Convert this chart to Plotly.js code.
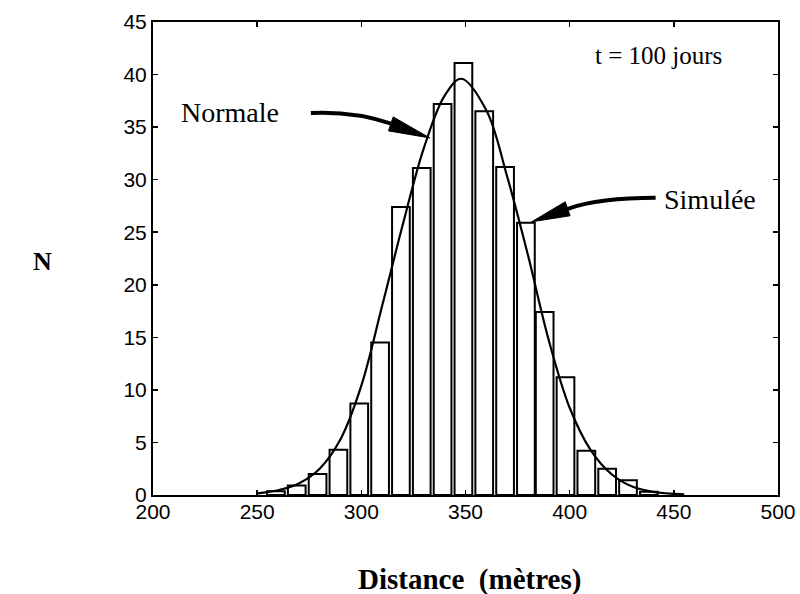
<!DOCTYPE html>
<html>
<head>
<meta charset="utf-8">
<script src="https://cdn.plot.ly/plotly-3.0.1.min.js"></script>
<style>html,body{margin:0;padding:0;background:#fff;}</style>
</head>
<body>
<div id="chart" style="width:800px;height:594px;"></div>
<script>
// Histogram (simulated distances), bin centers in metres
const binCenters = [259, 269, 279, 289, 299, 309, 319, 329, 339, 349, 359, 369, 379, 388, 398, 408, 418, 428, 438];
const binCounts  = [0.35, 0.9, 2.0, 4.3, 8.7, 14.5, 27.4, 31.1, 37.2, 41.1, 36.5, 31.2, 25.9, 17.4, 11.2, 4.2, 2.5, 1.4, 0.3];

// Normal curve, values
const curveX = [250, 260, 270, 280, 290, 300, 310, 320, 330, 340, 348, 360, 370, 380, 390, 400, 410, 420, 430, 440, 455];
const curveY = [0.15, 0.45, 1.1, 2.5, 5.3, 10.4, 18.0, 25.8, 33.0, 38.0, 39.6, 36.6, 30.3, 22.8, 14.7, 8.3, 4.3, 2.0, 0.8, 0.3, 0.05];

const xTicks = [200, 250, 300, 350, 400, 450, 500];
const yTicks = [0, 5, 10, 15, 20, 25, 30, 35, 40, 45];

const labels = {
  time: 't = 100 jours',
  normal: 'Normale',
  simul: 'Simulée',
  xTitle: '<b>Distance\u00a0\u00a0(mètres)</b>',
  yTitle: '<b>N</b>'
};

// plot area in pixels
const W = 800, H = 594;
const L = 153, R = 778.5, T = 22, B = 495.5;
const px = x => (x - L) / (R - L);
const py = y => (B - y) / (B - T);
const pt = (x, y) => px(x).toFixed(4) + ',' + py(y).toFixed(4);

const bars = {
  type: 'bar',
  x: binCenters,
  y: binCounts,
  width: 8.5,
  marker: { color: '#ffffff', line: { color: '#000000', width: 2 } },
  hoverinfo: 'x+y'
};
const curve = {
  type: 'scatter',
  mode: 'lines',
  x: curveX,
  y: curveY,
  line: { color: '#000000', width: 2.2, shape: 'spline', smoothing: 1 }
};

const serif = 'Liberation Serif, Times New Roman, serif';
const sans = 'Liberation Sans, Arial, sans-serif';

function note(text, x, y, size) {
  return { text: text, xref: 'paper', yref: 'paper', x: px(x), y: py(y),
    xanchor: 'center', yanchor: 'middle', showarrow: false,
    font: { family: serif, size: size, color: '#000' } };
}

const layout = {
  width: W, height: H,
  margin: { l: L, r: W - R, t: T, b: H - B },
  paper_bgcolor: '#ffffff',
  plot_bgcolor: '#ffffff',
  showlegend: false,
  bargap: 0,
  xaxis: {
    range: [200, 500],
    tickvals: xTicks,
    ticktext: xTicks.map(String),
    ticks: 'inside', ticklen: 5, tickwidth: 1.5, tickcolor: '#000',
    showline: true, linecolor: '#000', linewidth: 2, mirror: 'ticks',
    showgrid: false, zeroline: false,
    ticklabelstandoff: -3,
    tickfont: { family: sans, size: 21, color: '#000' }
  },
  yaxis: {
    range: [0, 45],
    tickvals: yTicks,
    ticktext: yTicks.map(String),
    ticks: 'inside', ticklen: 5, tickwidth: 1.5, tickcolor: '#000',
    showline: true, linecolor: '#000', linewidth: 2, mirror: 'ticks',
    showgrid: false, zeroline: false,
    tickfont: { family: sans, size: 21, color: '#000' }
  },
  annotations: [
    note(labels.time, 659, 56, 25),
    note(labels.normal, 230, 113, 28),
    note(labels.simul, 710, 200, 28),
    note(labels.yTitle, 42, 262, 26),
    note(labels.xTitle, 470, 580, 29)
  ],
  shapes: [
    // arrow to normal curve
    { type: 'path', xref: 'paper', yref: 'paper', layer: 'above',
      path: 'M' + pt(311, 113) + ' Q' + pt(355, 111) + ' ' + pt(392, 124),
      line: { color: '#000', width: 4 } },
    { type: 'path', xref: 'paper', yref: 'paper', layer: 'above',
      path: 'M' + pt(430, 138) + ' L' + pt(393.4, 117) + ' L' + pt(388.6, 131) + ' Z',
      fillcolor: '#000', line: { color: '#000', width: 1 } },
    // arrow to simulated histogram
    { type: 'path', xref: 'paper', yref: 'paper', layer: 'above',
      path: 'M' + pt(656, 198) + ' Q' + pt(600, 198) + ' ' + pt(568, 209),
      line: { color: '#000', width: 4 } },
    { type: 'path', xref: 'paper', yref: 'paper', layer: 'above',
      path: 'M' + pt(532, 222) + ' L' + pt(570.4, 216) + ' L' + pt(565.6, 202) + ' Z',
      fillcolor: '#000', line: { color: '#000', width: 1 } }
  ]
};

Plotly.newPlot('chart', [bars, curve], layout, { staticPlot: true, displayModeBar: false });
</script>
</body>
</html>
